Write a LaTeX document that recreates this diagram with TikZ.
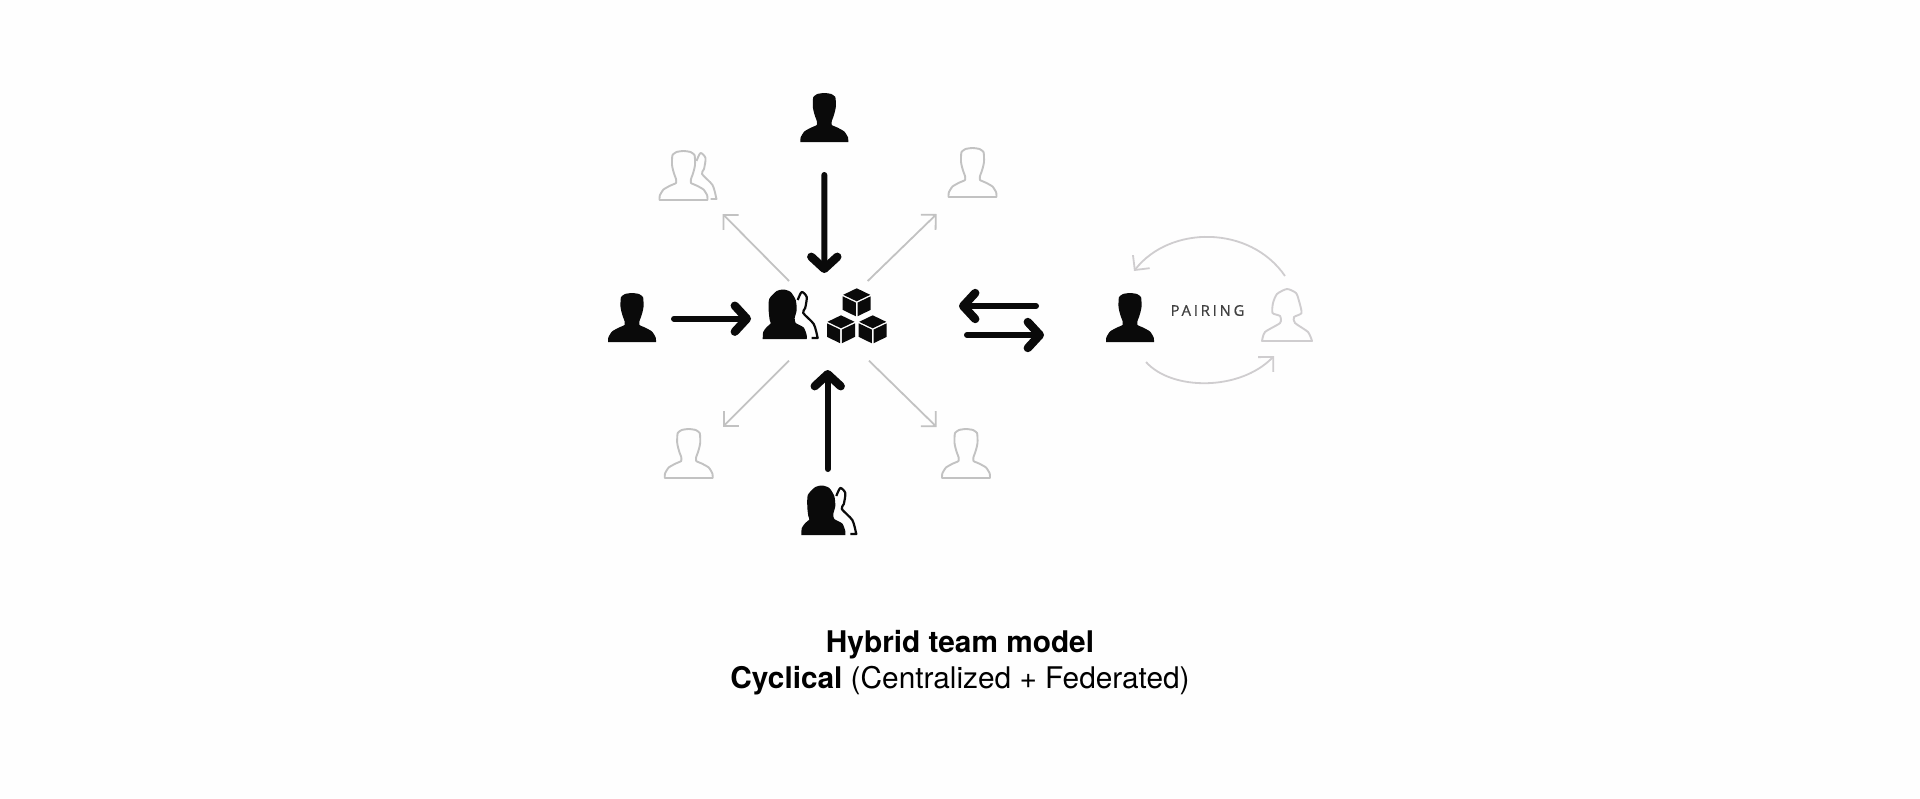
\documentclass[tikz,border=0pt]{standalone}
\usepackage{fontspec}
\setmainfont{TeX Gyre Heros}
\newfontfamily\pairfont[LetterSpace=19,FakeBold=0.8]{Open Sans}
\usetikzlibrary{arrows.meta,calc}
\definecolor{ink}{HTML}{0A0A0A}
\definecolor{pale}{HTML}{C2C2C2}
\definecolor{arcpale}{HTML}{CFCDCF}
\newcommand{\manoutline}{plot[smooth,tension=.35] coordinates {(-24,0) (-23.7,-4.5) (-20,-10.5) (-13,-14.5) (-7.5,-17) (-7.5,-21) (-9,-25) (-10.5,-30) (-11.5,-35) (-11.5,-40) (-11,-45) (-7,-48) (0,-49) (7,-48) (11,-45) (11.5,-40) (11.5,-35) (10.5,-30) (9,-25) (7.5,-21) (7.5,-17) (13,-14.5) (20,-10.5) (23.7,-4.5) (24,0)} -- cycle}
\newcommand{\backoutline}{plot[smooth,tension=.45] coordinates {(13,-39) (17,-47) (22,-42) (20.5,-31) (18.5,-26) (29,-15) (32.5,-3)} -- (33,-1) -- (27,-1)}
\tikzset{
  x=0.5pt,y=-0.5pt,
  spot/.style={inner sep=0pt,outer sep=0pt,minimum size=0pt},
  boldarrow/.style={draw=ink,line width=3pt,line cap=round,-{Straight Barb[length=6pt,width=13pt,line width=4.2pt,round]}},
  palearrow/.style={draw=pale,line width=0.9pt,-{Straight Barb[length=5.3pt,width=10.6pt,line width=0.9pt]}},
  arcarrow/.style={draw=arcpale,line width=0.9pt,-{Straight Barb[length=5.3pt,width=10.6pt,line width=0.9pt]}},
  cubepic/.pic={
    \fill[ink] (0,-14) -- (13.5,-7.5) -- (0,-1) -- (-13.5,-7.5) -- cycle;
    \fill[ink] (-14,-6) -- (-0.8,0.3) -- (-0.8,14) -- (-14,7.5) -- cycle;
    \fill[ink] (14,-6) -- (0.8,0.3) -- (0.8,14) -- (14,7.5) -- cycle;
  },
  manfilled/.pic={\fill[ink] \manoutline;},
  manpale/.pic={\draw[pale,line width=0.95pt,line join=round] \manoutline;},
  backpale/.pic={\draw[pale,line width=0.95pt,line join=round] \backoutline;},
  womanfilled/.pic={
    \fill[ink] plot[smooth,tension=.4] coordinates {(-22,0) (-21.5,-7) (-18,-12) (-14,-15.5) (-15,-19) (-16,-28) (-15.5,-40) (-8,-48) (-1,-49.5) (6,-47) (11,-39) (12,-29) (10,-21) (11,-16) (19,-11.5) (22,-4) (22,0)} -- cycle;
    \draw[ink,line width=1.1pt,line join=round] \backoutline;
  },
  womanpale/.pic={
    \draw[arcpale,line width=0.95pt,line join=round] plot[smooth,tension=.4] coordinates {(-25,0) (-22,-9) (-7,-18) (-7,-25) (-14.5,-28) (-14,-38) (-10,-47) (0,-52) (9,-48) (12,-40) (14.5,-28) (7,-24) (8,-18) (21,-9) (25,0)} -- cycle;
  },
}
\begin{document}
\begin{tikzpicture}
\path[fill=white!99.5!black] (0,0) rectangle (1920,798);
\useasboundingbox (0,0) rectangle (1920,798);
% anchors
\node[spot] (hub) at (826,320) {};
\node[spot] (mtop) at (824.3,142) {};
\node[spot] (mleft) at (632,342) {};
\node[spot] (wbot) at (823.3,535) {};
\node[spot] (wcentre) at (784.7,339) {};
\node[spot] (gtl) at (683.5,200) {};
\node[spot] (gtr) at (972.5,197) {};
\node[spot] (gbl) at (688.7,478) {};
\node[spot] (gbr) at (966,478) {};
\node[spot] (pman) at (1130,342) {};
\node[spot] (pwoman) at (1287,341) {};
\node[spot] (cubea) at (856.7,302.3) {};
\node[spot] (cubeb) at (841,329.3) {};
\node[spot] (cubec) at (872.7,329.3) {};
% icons
\pic at (mtop) {manfilled};
\pic at (mleft) {manfilled};
\pic at (pman) {manfilled};
\pic at (wbot) {womanfilled};
\pic at (wcentre) {womanfilled};
\pic at (gtl) {manpale};
\pic at (gtl) {backpale};
\pic at (gtr) {manpale};
\pic at (gbl) {manpale};
\pic at (gbr) {manpale};
\pic at (pwoman) {womanpale};
\pic at (cubea) {cubepic};
\pic at (cubeb) {cubepic};
\pic at (cubec) {cubepic};
% bold arrows
\draw[boldarrow] ($(mtop)+(0,33)$) -- ($(hub)+(-1.7,-47)$);
\draw[boldarrow] ($(mleft)+(42,-23.3)$) -- ($(hub)+(-75,-1.3)$);
\draw[boldarrow] ($(wbot)+(4.4,-66)$) -- ($(hub)+(1.7,50)$);
\draw[boldarrow] ($(pman)+(-94,-36)$) -- ($(hub)+(133,-14)$);
\draw[boldarrow] ($(hub)+(141,15)$) -- ($(pman)+(-86,-7)$);
% pale arrows
\draw[palearrow] ($(hub)+(-37,-39)$) -- ($(gtl)+(39.2,14)$);
\draw[palearrow] ($(hub)+(41.7,-39)$) -- ($(gtr)+(-35.8,17)$);
\draw[palearrow] ($(hub)+(-37,40.7)$) -- ($(gbl)+(34,-51)$);
\draw[palearrow] ($(hub)+(43,40.7)$) -- ($(gbr)+(-29.3,-51)$);
% pairing arcs
\draw[arcarrow] ($(pwoman)+(-2,-65)$) .. controls ($(pwoman)+(-37,-116)$) and ($(pman)+(40,-117)$) .. ($(pman)+(4,-71)$);
\draw[arcarrow] ($(pman)+(16,20)$) .. controls ($(pman)+(42,49)$) and ($(pwoman)+(-47,50)$) .. ($(pwoman)+(-13,15)$);
% text
\node[spot,anchor=center,text=black!75] (pairing) at (1207.5,310.5) {\pairfont\fontsize{7.4}{9}\selectfont PAIRING};
\node[spot,anchor=base,text=black] (titlea) at (960,652.2) {\fontsize{14.9}{18}\selectfont\bfseries Hybrid team model};
\node[spot,anchor=base,text=black] (titleb) at (960,688.5) {\fontsize{14.9}{18}\selectfont\textbf{Cyclical} (Centralized + Federated)};
\end{tikzpicture}
\end{document}
